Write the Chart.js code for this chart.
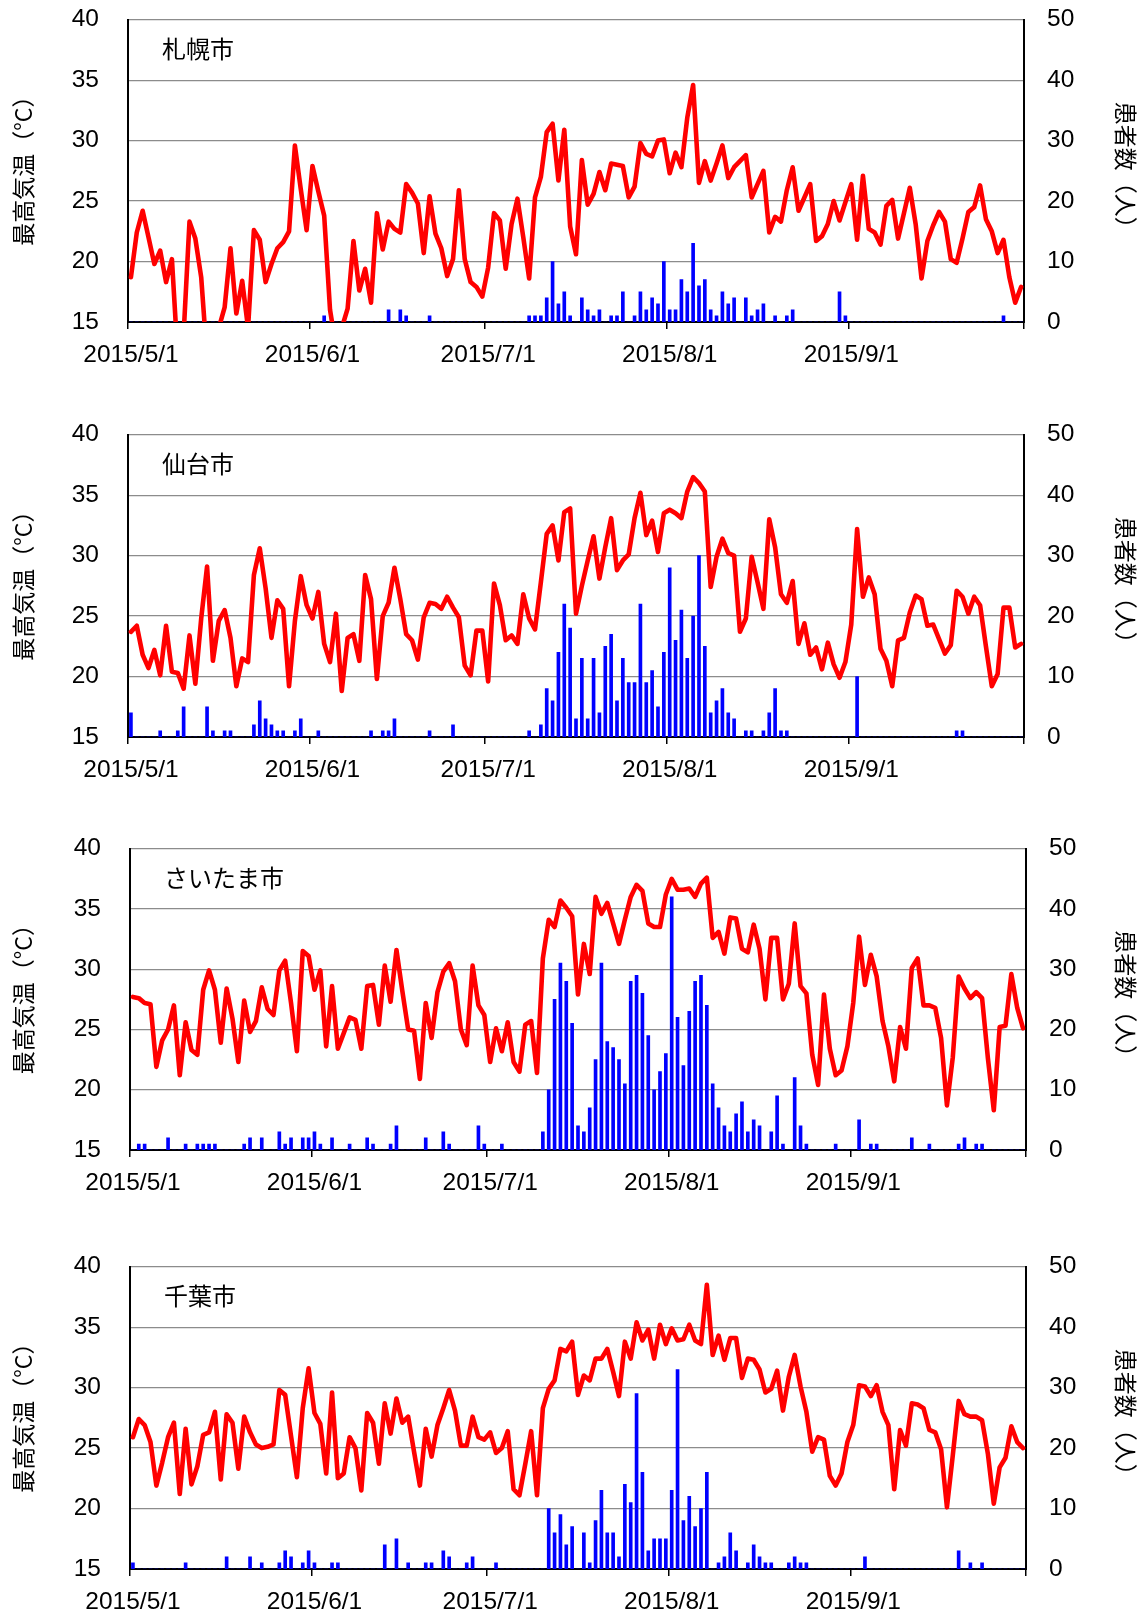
<!DOCTYPE html>
<html><head><meta charset="utf-8">
<script src="https://cdn.jsdelivr.net/npm/chart.js@4.4.1/dist/chart.umd.min.js"></script>
<style>
html,body{margin:0;padding:0;background:#fff;width:1140px;height:1615px;overflow:hidden;position:relative}
canvas{position:absolute;left:0}
</style></head><body>
<canvas id="c0" width="1140" height="367" style="top:0px"></canvas>
<canvas id="c1" width="1140" height="367" style="top:415px"></canvas>
<canvas id="c2" width="1140" height="367" style="top:829px"></canvas>
<canvas id="c3" width="1140" height="367" style="top:1247px"></canvas>
<script>
const cities = ['札幌市','仙台市','さいたま市','千葉市'];
const xTickLabels = ['2015/5/1','2015/6/1','2015/7/1','2015/8/1','2015/9/1',''];
const monthStartDays = [0,31,61,92,123,153];
const leftTitle = '\u2002最高気温（°C）';
const rightTitle = '患者数（人）';

const sapporoTemp = [
18.7,22.4,24.2,22.0,19.8,20.9,18.3,20.2,12.0,14.0,
23.3,21.9,18.7,12.0,12.0,14.5,16.2,21.1,15.7,18.4,
14.5,22.6,21.8,18.3,19.8,21.1,21.6,22.5,29.6,26.0,
22.6,27.9,25.8,23.8,16.0,13.0,14.5,16.1,21.7,17.6,
19.4,16.6,24.0,21.0,23.3,22.7,22.4,26.4,25.7,24.8,
20.7,25.4,22.3,21.1,18.8,20.2,25.9,20.2,18.3,17.9,
17.1,19.5,24.0,23.4,19.4,23.1,25.2,22.0,18.6,25.3,
27.0,30.7,31.4,26.7,30.9,22.9,20.6,28.4,24.7,25.6,
27.4,25.9,28.1,28.0,27.9,25.3,26.2,29.8,28.9,28.7,
30.0,30.1,27.3,29.0,27.8,31.9,34.6,26.5,28.3,26.7,
28.1,29.6,26.9,27.8,28.3,28.8,25.3,26.4,27.5,22.4,
23.7,23.3,25.9,27.8,24.2,25.3,26.4,21.7,22.1,23.1,
25.0,23.4,24.9,26.4,21.8,27.1,22.7,22.4,21.4,24.6,
25.1,21.9,24.0,26.1,23.1,18.6,21.7,23.0,24.1,23.3,
20.2,19.9,21.9,24.1,24.5,26.3,23.5,22.5,20.7,21.8,
18.7,16.6,17.9];
const sapporoPatients = [
0,0,0,0,0,0,0,0,0,0,
0,0,0,0,0,0,0,0,0,0,
0,0,0,0,0,0,0,0,0,0,
0,0,0,1,0,0,0,0,0,0,
0,0,0,0,2,0,2,1,0,0,
0,1,0,0,0,0,0,0,0,0,
0,0,0,0,0,0,0,0,1,1,
1,4,10,3,5,1,0,4,2,1,
2,0,1,1,5,0,1,5,2,4,
3,10,2,2,7,5,13,6,7,2,
1,5,3,4,0,4,1,2,3,0,
1,0,1,2,0,0,0,0,0,0,
0,5,1,0,0,0,0,0,0,0,
0,0,0,0,0,0,0,0,0,0,
0,0,0,0,0,0,0,0,0,1,
0,0,0];

const sendaiTemp = [
23.7,24.2,21.8,20.7,22.2,20.1,24.2,20.4,20.3,19.0,
23.4,19.4,24.8,29.1,21.3,24.6,25.5,23.2,19.2,21.5,
21.2,28.4,30.6,27.3,23.2,26.3,25.6,19.2,24.6,28.3,
25.9,24.8,27.0,22.7,21.2,25.2,18.8,23.2,23.5,21.3,
28.4,26.4,19.8,25.0,26.1,29.0,26.4,23.5,23.0,21.4,
24.9,26.1,26.0,25.6,26.6,25.7,24.9,20.9,20.1,23.8,
23.8,19.6,27.7,25.9,23.0,23.4,22.7,26.8,24.8,23.9,
27.8,31.8,32.5,29.6,33.6,33.9,25.2,27.5,29.6,31.6,
28.1,30.7,33.1,28.8,29.6,30.1,33.1,35.2,31.7,32.9,
30.3,33.5,33.8,33.5,33.1,35.3,36.5,36.0,35.3,27.4,
29.9,31.4,30.2,30.0,23.7,24.8,29.9,27.8,25.6,33.0,
30.7,26.8,26.1,27.9,22.7,24.4,21.8,22.4,20.6,22.8,
21.0,19.9,21.2,24.3,32.2,26.6,28.2,26.8,22.3,21.3,
19.2,23.0,23.2,25.3,26.7,26.4,24.2,24.3,23.1,21.9,
22.6,27.1,26.6,25.2,26.6,25.9,22.5,19.2,20.2,25.7,
25.7,22.4,22.7];
const sendaiPatients = [
4,0,0,0,0,1,0,0,1,5,
0,0,0,5,1,0,1,1,0,0,
0,2,6,3,2,1,1,0,1,3,
0,0,1,0,0,0,0,0,0,0,
0,1,0,1,1,3,0,0,0,0,
0,1,0,0,0,2,0,0,0,0,
0,0,0,0,0,0,0,0,1,0,
2,8,6,14,22,18,3,13,3,13,
4,15,17,6,13,9,9,22,9,11,
5,14,28,16,21,13,20,30,15,4,
6,8,4,3,0,1,1,0,1,4,
8,1,1,0,0,0,0,0,0,0,
0,0,0,0,10,0,0,0,0,0,
0,0,0,0,0,0,0,0,0,0,
0,1,1,0,0,0,0,0,0,0,
0,0,0];

const saitamaTemp = [
27.7,27.6,27.2,27.1,21.9,24.1,25.0,27.0,21.2,25.6,
23.3,22.9,28.3,29.9,28.3,23.9,28.4,25.9,22.3,27.4,
24.8,25.7,28.5,26.7,26.2,29.9,30.7,27.2,23.2,31.5,
31.1,28.3,29.9,23.6,28.6,23.4,24.7,26.0,25.8,23.4,
28.6,28.7,25.4,30.3,27.3,31.6,28.2,25.0,24.9,20.9,
27.2,24.3,28.1,29.8,30.5,29.0,25.0,23.7,30.3,27.0,
26.2,22.3,25.1,23.2,25.6,22.3,21.5,25.4,25.7,21.4,
30.9,34.1,33.5,35.7,35.1,34.4,27.9,32.1,29.6,36.0,
34.6,35.5,33.8,32.1,34.1,36.0,37.0,36.5,33.8,33.5,
33.5,36.2,37.5,36.6,36.6,36.7,36.0,37.1,37.6,32.6,
33.1,31.3,34.3,34.2,31.7,31.4,33.7,31.7,27.5,32.6,
32.6,27.5,28.8,33.8,28.6,28.0,22.9,20.4,27.9,23.4,
21.2,21.6,23.6,27.2,32.7,28.7,31.2,29.4,25.7,23.6,
20.7,25.2,23.4,30.1,30.9,27.0,27.0,26.8,24.3,18.7,
22.7,29.4,28.4,27.6,28.1,27.6,22.6,18.3,25.2,25.3,
29.6,26.8,25.1];
const saitamaPatients = [
0,1,1,0,0,0,2,0,0,1,
0,1,1,1,1,0,0,0,0,1,
2,0,2,0,0,3,1,2,0,2,
2,3,1,0,2,0,0,1,0,0,
2,1,0,0,1,4,0,0,0,0,
2,0,0,3,1,0,0,0,0,4,
1,0,0,1,0,0,0,0,0,0,
3,10,25,31,28,21,4,3,7,15,
31,18,17,15,11,28,29,26,19,10,
13,16,42,22,14,23,28,29,24,11,
7,4,3,6,8,3,5,4,0,3,
9,1,0,12,4,1,0,0,0,0,
1,0,0,0,5,0,1,1,0,0,
0,0,0,2,0,0,1,0,0,0,
0,1,2,0,1,1,0,0,0,0,
0,0,0];

const chibaTemp = [
25.9,27.4,26.9,25.5,21.9,23.8,25.9,27.1,21.2,26.6,
22.0,23.5,26.1,26.3,28.0,22.4,27.8,27.1,23.3,27.6,
26.3,25.3,25.0,25.1,25.3,29.8,29.4,26.0,22.6,28.3,
31.6,27.9,27.0,22.9,29.6,22.5,22.9,25.9,25.0,21.5,
27.9,27.1,23.7,28.7,26.2,29.1,27.1,27.6,24.7,21.9,
26.6,24.3,26.9,28.3,29.8,28.1,25.2,25.2,27.6,25.9,
25.7,26.3,24.6,25.0,26.4,21.6,21.1,23.7,26.4,21.1,
28.3,29.9,30.6,33.2,33.0,33.8,29.4,31.0,30.6,32.4,
32.4,33.2,31.3,29.3,33.8,32.4,35.4,33.9,34.8,32.4,
35.2,33.6,34.9,33.9,34.0,35.2,33.9,33.6,38.5,32.7,
34.3,32.3,34.1,34.1,30.8,32.4,32.3,31.5,29.6,29.9,
31.4,28.1,30.9,32.7,30.1,28.0,24.7,25.9,25.7,22.7,
21.9,22.9,25.5,26.9,30.2,30.1,29.3,30.2,28.0,26.9,
21.6,26.5,25.2,28.7,28.6,28.3,26.5,26.3,24.9,20.1,
24.4,28.9,27.8,27.6,27.6,27.3,24.5,20.4,23.4,24.2,
26.8,25.5,25.0];
const chibaPatients = [
1,0,0,0,0,0,0,0,0,1,
0,0,0,0,0,0,2,0,0,0,
2,0,1,0,0,1,3,2,0,1,
3,1,0,0,1,1,0,0,0,0,
0,0,0,4,0,5,0,1,0,0,
1,1,0,3,2,0,0,1,2,0,
0,0,1,0,0,0,0,0,0,0,
0,10,6,9,4,7,0,6,1,8,
13,6,6,2,14,11,29,16,3,5,
5,5,13,33,8,12,7,10,16,0,
1,2,6,3,0,1,4,2,1,1,
0,0,1,2,1,1,0,0,0,0,
0,0,0,0,0,2,0,0,0,0,
0,0,0,0,0,0,0,0,0,0,
0,3,0,1,0,1,0,0,0,0,
0,0,0];

const panelData = [
  {city: cities[0], temp: sapporoTemp, patients: sapporoPatients},
  {city: cities[1], temp: sendaiTemp, patients: sendaiPatients},
  {city: cities[2], temp: saitamaTemp, patients: saitamaPatients},
  {city: cities[3], temp: chibaTemp, patients: chibaPatients}
];
const panelLayout = [
  {canvas:'c0', leftW:128, rightW:116, plotTop:20,   plotBottom:322},
  {canvas:'c1', leftW:128, rightW:116, plotTop:435,  plotBottom:737},
  {canvas:'c2', leftW:130, rightW:114, plotTop:849,  plotBottom:1150},
  {canvas:'c3', leftW:130, rightW:114, plotTop:1267, plotBottom:1569}
];
const X_AXIS_H = 45;

const tickFont = {family: '"Liberation Sans", Arial, sans-serif', size: 24.5};
const titleFont = {family: '"Noto Sans CJK JP", "Noto Sans CJK SC", sans-serif', size: 23};

const cityLabel = {
  id: 'cityLabel',
  afterDraw(chart, args, opts) {
    const {ctx, chartArea} = chart;
    ctx.save();
    ctx.font = '24px "Noto Sans CJK JP", "Noto Sans CJK SC", sans-serif';
    ctx.fillStyle = '#000';
    ctx.textBaseline = 'middle';
    ctx.textAlign = 'left';
    ctx.fillText(opts.text, chartArea.left + 34, chartArea.top + 29);
    ctx.restore();
  }
};

function makeChart(pd, lay, canvas) {
  return new Chart(canvas.getContext('2d'), {
    type: 'line',
    data: {
      datasets: [
        {
          type: 'line',
          data: pd.temp.map((v, i) => ({x: i + 0.5, y: v})),
          yAxisID: 'y', xAxisID: 'x',
          borderColor: '#FF0000', borderWidth: 4.6,
          borderJoinStyle: 'round', borderCapStyle: 'round',
          pointRadius: 0, tension: 0, fill: false, order: 1
        },
        {
          type: 'bar',
          data: pd.patients.map((v, i) => ({x: i + 0.5, y: v})),
          yAxisID: 'y2', xAxisID: 'x',
          backgroundColor: '#0000FF', borderWidth: 0,
          barThickness: 3, order: 2
        }
      ]
    },
    options: {
      responsive: false, maintainAspectRatio: false, animation: false, devicePixelRatio: 1,
      layout: {padding: {top: 20, left: 0, right: 0, bottom: 0}},
      plugins: {legend: {display: false}, tooltip: {enabled: false}, cityLabel: {text: pd.city}},
      scales: {
        x: {
          type: 'linear', min: 0, max: 153, offset: false,
          afterBuildTicks: s => { s.ticks = monthStartDays.map(v => ({value: v})); },
          afterFit: s => { s.height = X_AXIS_H; },
          grid: {display: true, drawOnChartArea: false, drawTicks: true, tickLength: 7, color: '#000', lineWidth: 1.5, offset: false},
          border: {display: true, color: '#000', width: 2},
          ticks: {autoSkip: false, maxRotation: 0, minRotation: 0, padding: 12, labelOffset: 3, color: '#000', font: tickFont,
                  callback: (v, i) => xTickLabels[i]}
        },
        y: {
          position: 'left', min: 15, max: 40,
          afterFit: s => { s.width = lay.leftW; },
          ticks: {stepSize: 5, padding: 29, color: '#000', font: tickFont},
          grid: {color: '#8c8c8c', lineWidth: 1.3, drawTicks: false},
          border: {display: true, color: '#000', width: 2},
          title: {display: true, text: leftTitle, color: '#000', font: titleFont, padding: {top: 9, bottom: 0}}
        },
        y2: {
          position: 'right', min: 0, max: 50,
          afterFit: s => { s.width = lay.rightW; },
          ticks: {stepSize: 10, padding: 23, color: '#000', font: tickFont},
          grid: {display: false, drawOnChartArea: false, drawTicks: false},
          border: {display: true, color: '#000', width: 2},
          title: {display: true, text: rightTitle, color: '#000', font: titleFont, padding: {top: 0, bottom: 0}}
        }
      }
    },
    plugins: [cityLabel]
  });
}

panelData.forEach((pd, k) => {
  const lay = panelLayout[k];
  const canvas = document.getElementById(lay.canvas);
  const wantH = lay.plotBottom - lay.plotTop;
  let H = 20 + wantH + X_AXIS_H;
  let chart = makeChart(pd, lay, canvas);
  for (let it = 0; it < 4; it++) {
    const ca = chart.chartArea;
    const gotH = ca.bottom - ca.top;
    if (Math.abs(gotH - wantH) < 0.5) break;
    H = Math.round(H + (wantH - gotH));
    chart.destroy();
    canvas.height = H;
    chart = makeChart(pd, lay, canvas);
  }
  canvas.style.top = (lay.plotTop - chart.chartArea.top) + 'px';
});
</script>
</body></html>
